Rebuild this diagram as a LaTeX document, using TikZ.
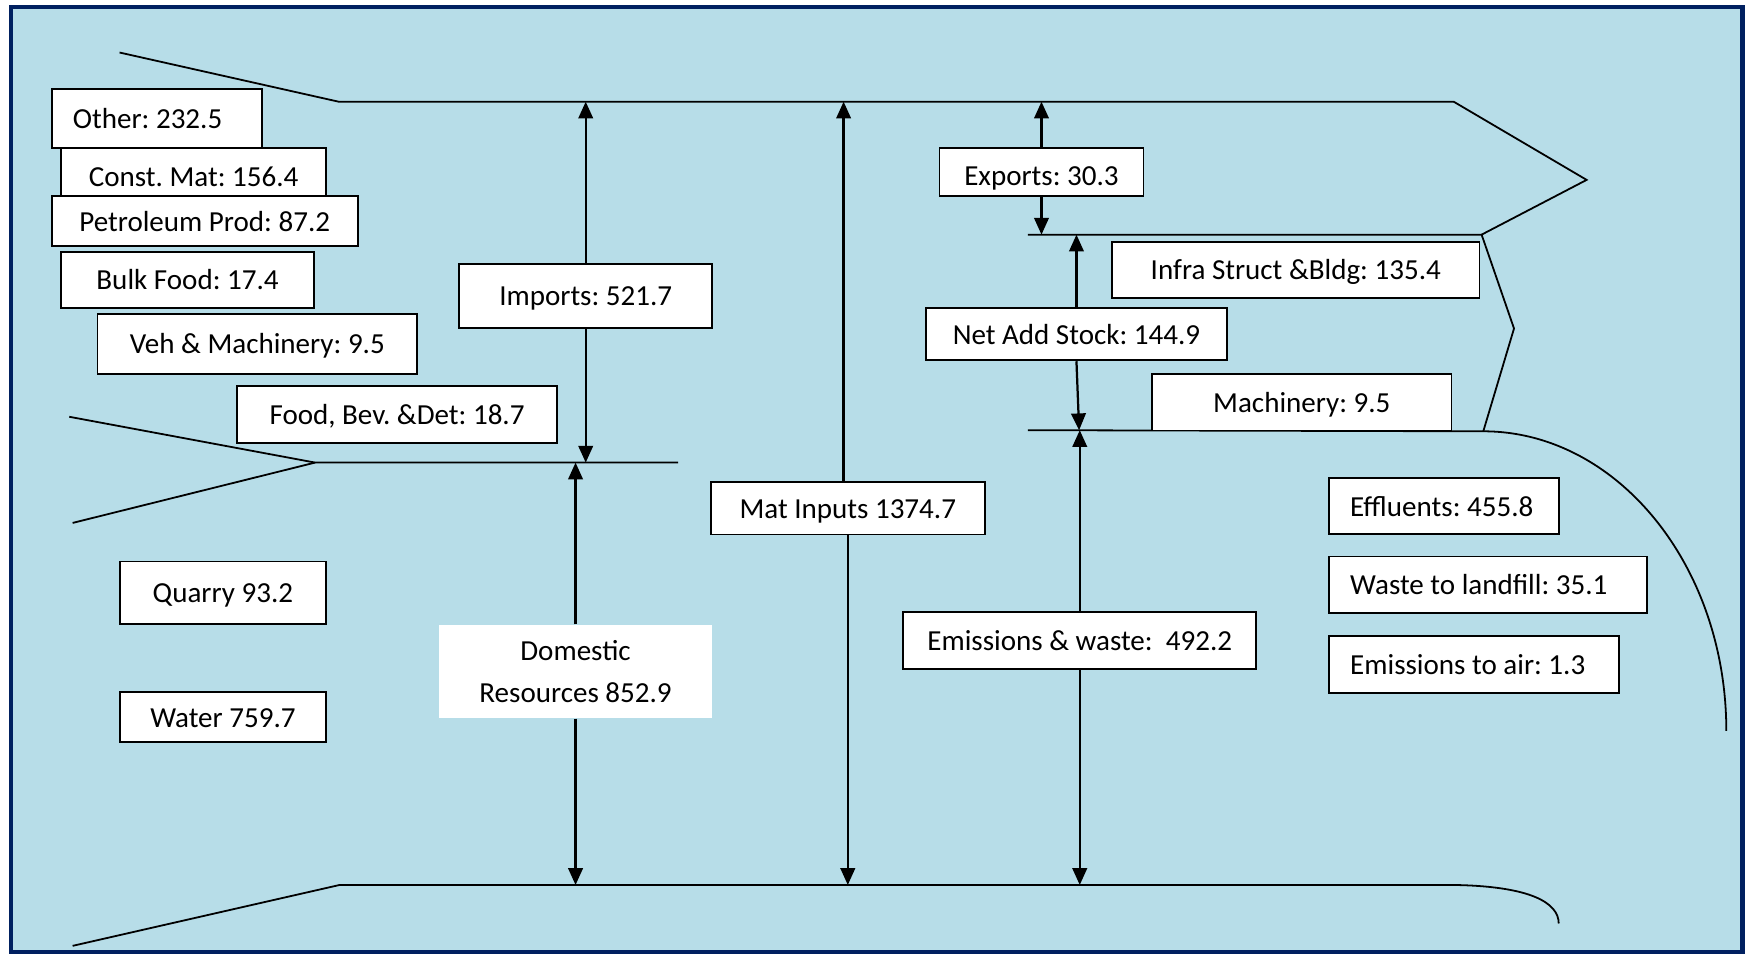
\documentclass[tikz,border=0pt]{standalone}
\usepackage{fontspec}
\setmainfont{Carlito}
\usetikzlibrary{arrows.meta}
\definecolor{navy}{RGB}{0,32,96}
\definecolor{aqua}{HTML}{B7DDE8}
\frenchspacing
\tikzset{
  lbl/.style={draw=black, line width=1.6pt, fill=white, inner sep=0pt, align=center,
    text height=19pt, text depth=1pt,
    font=\fontsize{26}{37.6}\selectfont\frenchspacing},
  lbll/.style={lbl, inner xsep=19pt},
  plain/.style={fill=white, inner sep=0pt, align=center, font=\fontsize{26}{37.6}\selectfont\frenchspacing},
  edge/.style={line width=1.6pt, black},
  arr/.style={-{Triangle[length=15pt,width=13pt]}, line width=2pt, black}
}
\begin{document}
\begin{tikzpicture}[x=1pt,y=-1pt]
\useasboundingbox (0,0) rectangle (1568,854);
\fill[white] (0,0) rectangle (1568,854);
\draw[navy, line width=4pt, fill=aqua] (10,6.5) rectangle (1559.5,852);
% outline shapes
\draw[edge] (107,47) -- (303,91) -- (1301,91) -- (1420,161) -- (1326,210);
\draw[edge] (920,210) -- (1326,210) -- (1355,294) -- (1327.5,386);
\draw[edge] (920,385) -- (1327.5,386) .. controls (1447,386) and (1545,506) .. (1545,654);
\draw[edge] (62,373) -- (282,414) -- (607,414);
\draw[edge] (65,468) -- (282,414);
\draw[edge] (65,846.5) -- (304,792) -- (1300,792) .. controls (1370,793) and (1395,808) .. (1395,826.5);
% coordinates on the flow lines
\coordinate (impTop) at (524.2,91);
\coordinate (impBot) at (524.2,414);
\coordinate (domTop) at (515.1,414);
\coordinate (domBot) at (515.1,792);
\coordinate (matTop) at (755,91);
\coordinate (matBot) at (758.75,792);
\coordinate (expTop) at (932.1,91);
\coordinate (expBot) at (932.1,210);
\coordinate (naTop) at (963.4,210);
\coordinate (naBot) at (965.8,385);
\coordinate (emTop) at (966.35,385);
\coordinate (emBot) at (966.35,792);
% boxes
\node[lbl, minimum width=237pt, minimum height=50.7pt] (const) at (173.3,157.6) {Const. Mat: 156.4};
\node[lbll, minimum height=52.3pt] (other) at (140.4,106.15) {\makebox[150.4pt][l]{Other: 232.5}};
\node[lbl, minimum width=274pt, minimum height=44.8pt] (petro) at (183.2,198) {Petroleum Prod: 87.2};
\node[lbl, minimum width=226.1pt, minimum height=49.9pt] (bulk) at (167.85,250.35) {Bulk Food: 17.4};
\node[lbl, minimum width=286pt, minimum height=53.7pt] (veh) at (230.3,307.55) {Veh \& Machinery: 9.5};
\node[lbl, minimum width=285.9pt, minimum height=50.7pt] (food) at (355.35,370.85) {Food, Bev. \&Det: 18.7};
\node[lbl, minimum width=226.4pt, minimum height=56.7pt] (imports) at (524.2,264.85) {Imports: 521.7};
\node[lbl, minimum width=184.6pt, minimum height=55.8pt] (quarry) at (199.5,530.5) {Quarry 93.2};
\node[lbl, minimum width=184.6pt, minimum height=44.8pt] (water) at (199.5,642) {Water 759.7};
\node[plain, minimum width=244.6pt, minimum height=83.9pt] (domestic) at (515.1,600.95) {Domestic\\Resources 852.9};
\node[lbl, minimum width=244.9pt, minimum height=46.9pt] (matin) at (758.75,454.95) {Mat Inputs 1374.7};
\node[lbl, minimum width=316.1pt, minimum height=50.7pt] (emis) at (966.35,573.35) {Emissions \& waste:\ \ 492.2};
\node[lbl, minimum width=182.6pt, minimum height=43.3pt, text height=24.8pt, text depth=0pt] (exports) at (932.1,153.95) {Exports: 30.3};
\node[lbl, minimum width=328.8pt, minimum height=49.9pt] (infra) at (1159.7,241.45) {Infra Struct \&Bldg: 135.4};
\node[lbl, minimum width=269.2pt, minimum height=47.2pt] (netadd) at (963.4,298.9) {Net Add Stock: 144.9};
\node[lbl, minimum width=267.8pt, minimum height=50.8pt] (mach) at (1165.1,359.8) {Machinery: 9.5};
\node[lbll, minimum height=49.8pt] (effl) at (1292.35,452.9) {\makebox[167.9pt][l]{Effluents: 455.8}};
\node[lbll, minimum height=50.5pt] (waste) at (1331.75,523.25) {\makebox[246.7pt][l]{Waste to landfill: 35.1}};
\node[lbll, minimum height=51pt] (air) at (1319.2,594.5) {\makebox[221.6pt][l]{Emissions to air: 1.3}};
% arrows
\draw[arr] (imports.north) -- (impTop);
\draw[arr] (imports.south) -- (impBot);
\draw[arr] (domestic.north) -- (domTop);
\draw[arr] (domestic.south) -- (domBot);
\draw[arr] (matin.north -| matTop) -- (matTop);
\draw[arr] (matin.south) -- (matBot);
\draw[arr] (exports.north) -- (expTop);
\draw[arr] (exports.south) -- (expBot);
\draw[arr] (netadd.north) -- (naTop);
\draw[arr] (netadd.south) -- (naBot);
\draw[arr] (emis.north) -- (emTop);
\draw[arr] (emis.south) -- (emBot);
\end{tikzpicture}
\end{document}
